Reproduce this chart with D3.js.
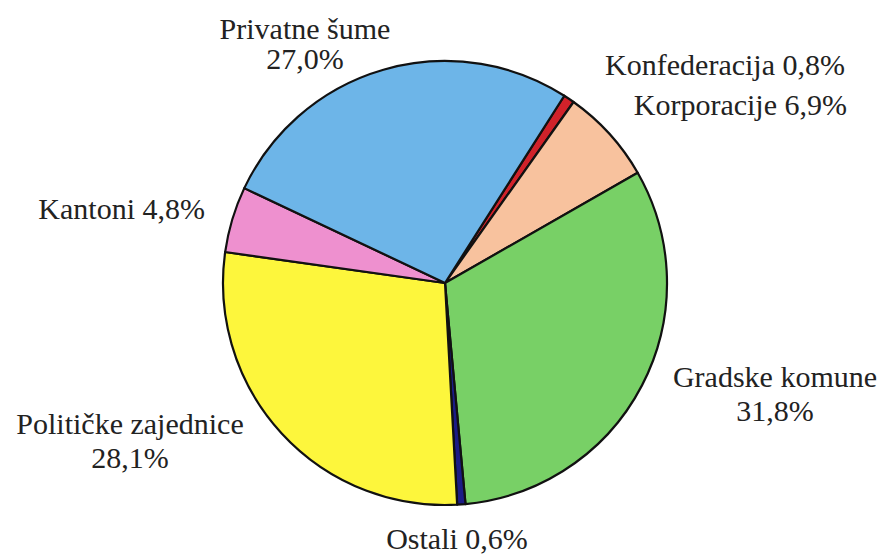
<!DOCTYPE html>
<html>
<head>
<meta charset="utf-8">
<script src="https://cdn.jsdelivr.net/npm/d3@7"></script>
<style>
  body { margin: 0; background: #fff; }
</style>
</head>
<body>
<svg id="chart" width="883" height="556"></svg>
<script>
// podaci (udio površine šuma po vlasniku, %)
const categories = ["Konfederacija", "Korporacije", "Gradske komune", "Ostali", "Političke zajednice", "Kantoni", "Privatne šume"];
const values = [0.8, 6.9, 31.8, 0.6, 28.1, 4.8, 27.0];
const colors = ["#d0222a", "#f8c29e", "#78d066", "#1c1c86", "#fdf63c", "#ee90cf", "#6db5e8"];

// položaj natpisa: x, y prvog retka, poravnanje, dva retka
const labelLayout = [
  { x: 845, y: 75, anchor: "end", split: false },
  { x: 847, y: 115, anchor: "end", split: false },
  { x: 775, y: 387, anchor: "middle", split: true },
  { x: 457, y: 549, anchor: "middle", split: false },
  { x: 130, y: 434, anchor: "middle", split: true },
  { x: 205, y: 219, anchor: "end", split: false },
  { x: 305, y: 39, anchor: "middle", split: true }
];

const svg = d3.select("#chart");
const cx = 445, cy = 283, radius = 222;

const pie = d3.pie()
  .sort(null)
  .value(d => d)
  .startAngle(32.5 * Math.PI / 180)
  .endAngle(32.5 * Math.PI / 180 + 2 * Math.PI);

const arc = d3.arc().innerRadius(0).outerRadius(radius);

const g = svg.append("g").attr("transform", `translate(${cx},${cy})`);

g.selectAll("path")
  .data(pie(values))
  .join("path")
  .attr("d", arc)
  .attr("fill", (d, i) => colors[i])
  .attr("stroke", "#111")
  .attr("stroke-width", 2.2)
  .attr("stroke-linejoin", "round");

const fmt = v => d3.format(".1f")(v).replace(".", ",") + "%";

categories.forEach((name, i) => {
  const l = labelLayout[i];
  const t = svg.append("text")
    .attr("x", l.x)
    .attr("y", l.y)
    .attr("text-anchor", l.anchor)
    .attr("font-family", "'Liberation Serif', 'DejaVu Serif', serif")
    .attr("font-size", 30)
    .attr("fill", "#222");
  if (l.split) {
    t.append("tspan").attr("x", l.x).text(name);
    t.append("tspan").attr("x", l.x).attr("dy", i === 6 ? 30 : 34).text(fmt(values[i]));
  } else {
    t.text(name + " " + fmt(values[i]));
  }
});
</script>
</body>
</html>
